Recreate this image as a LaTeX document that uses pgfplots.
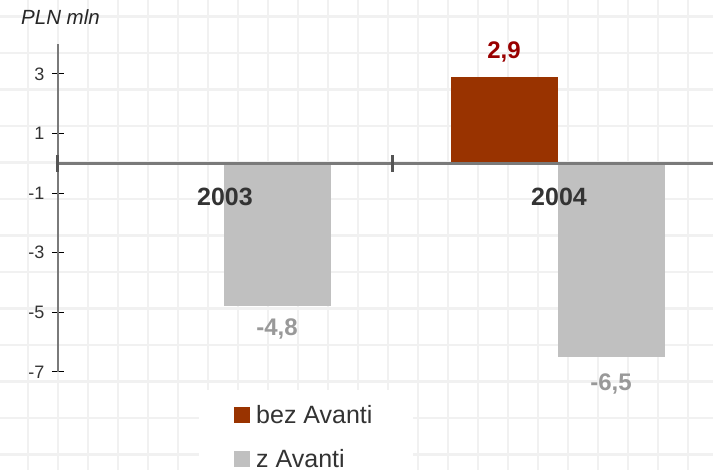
\documentclass[border=0pt]{standalone}
\usepackage{fontspec}
\setmainfont{Liberation Sans}
\usepackage{pgfplots}
\pgfplotsset{compat=1.18}
\usetikzlibrary{backgrounds,calc}
\definecolor{barred}{HTML}{993300}
\definecolor{barlab}{HTML}{990000}
\definecolor{bargray}{HTML}{C0C0C0}
\definecolor{labgray}{HTML}{999999}
\definecolor{gridc}{HTML}{F1F1F1}
\definecolor{axisg}{HTML}{7A7A7A}
\definecolor{tickg}{HTML}{555555}
\definecolor{txt}{HTML}{333333}
\begin{document}
\begin{tikzpicture}
\begin{axis}[
  name=ax,
  scale only axis, width=655pt, height=327.8pt,
  xmin=-0.5, xmax=1.461, ymin=-7, ymax=4,
  axis x line=middle, axis y line=left,
  axis on top,
  x axis line style={axisg, line width=2.5pt, -},
  y axis line style={axisg, line width=2.5pt, -},
  xtick=\empty,
  extra x ticks={-0.5,0.5,1.5}, extra x tick labels={},
  extra x tick style={major tick length=17pt, xtick align=center,
    tick style={tickg, line width=3pt}},
  tick align=center, major tick length=12pt,
  ytick={-7,-5,-3,-1,1,3},
  yticklabels={-7,-5,-3,-1,1,3},
  y tick style={black, line width=1pt},
  yticklabel style={font=\fontsize{18}{20}\selectfont, text=txt, xshift=-4pt},
  ybar, bar width=107pt,
  nodes near coords={\pgfmathprintnumber[fixed, precision=1, use comma, assume math mode=true]{\pgfplotspointmeta}},
  every node near coord/.append style={font=\bfseries\fontsize{24}{28}\selectfont},
  legend style={draw=none, fill=none, at={(0.2687,-0.095)}, anchor=north west,
    font=\fontsize{25}{30}\selectfont, text=txt, row sep=20pt, inner sep=0pt},
  legend cell align=left,
  legend image code/.code={\fill (0pt,-8pt) rectangle (16pt,8pt); \path (20pt,0pt);},
]
\addplot[fill=barred, draw=none, bar shift=-55pt,
  every node near coord/.append style={text=barlab, yshift=11pt}] coordinates {(1,2.9)};
\addlegendentry{bez Avanti}
\addplot[fill=bargray, draw=none, bar shift=52pt,
  every node near coord/.append style={text=labgray, yshift=-9pt}] coordinates {(0,-4.8)};
\addlegendentry{z Avanti}
\addplot[fill=bargray, draw=none, bar shift=52pt, forget plot,
  every node near coord/.append style={text=labgray, yshift=-13pt}] coordinates {(1,-6.5)};
\node[font=\bfseries\fontsize{25}{28}\selectfont, text=txt] at (axis cs:0,-1.13) {2003};
\node[font=\bfseries\fontsize{25}{28}\selectfont, text=txt] at (axis cs:1,-1.13) {2004};
\coordinate (O) at (axis cs:-0.5,-7);
\end{axis}
\pgfresetboundingbox
\begin{scope}[shift={($(O)+(-58pt,-98pt)$)}, x=1pt, y=1pt]
\useasboundingbox (0,0) rectangle (713,470);
\begin{pgfonlayer}{background}
\fill[white] (0,0) rectangle (713,470);
\foreach \i in {1,...,24} \draw[gridc, line width=2.5pt] (30*\i-2,0) -- (30*\i-2,470);
\foreach \j in {0,...,12} \draw[gridc, line width=2.5pt] (0,470-16.5-36.5*\j) -- (713,470-16.5-36.5*\j);
\fill[white] (199,0) rectangle (413,80);
\end{pgfonlayer}
\node[anchor=west, inner sep=0pt, text=black!85, font=\itshape\fontsize{20.5}{24}\selectfont] at (21,453) {PLN mln};
\end{scope}
\end{tikzpicture}
\end{document}
